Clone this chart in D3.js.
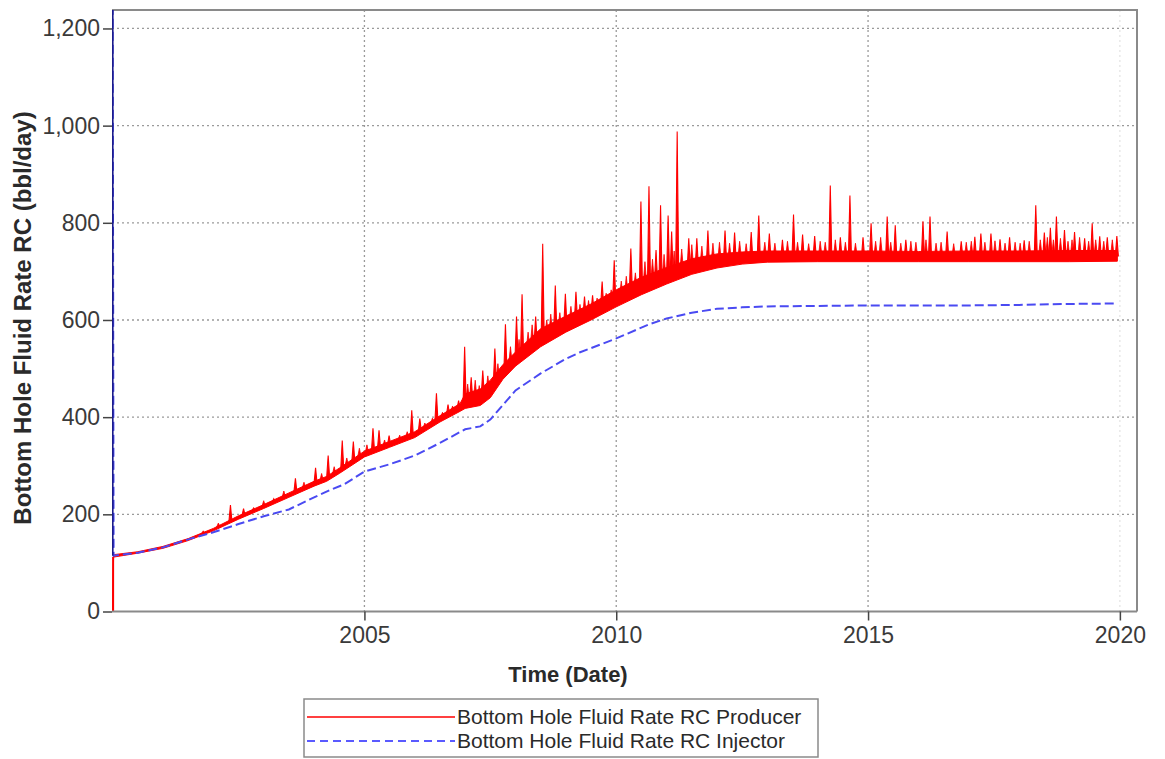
<!DOCTYPE html>
<html>
<head>
<meta charset="utf-8">
<script src="https://cdn.jsdelivr.net/npm/d3@7"></script>
<style>
  html, body { margin: 0; padding: 0; background: #fff; }
  svg { display: block; font-family: "Liberation Sans", Arial, sans-serif; }
</style>
</head>
<body>
<svg id="chart" width="1165" height="759"></svg>
<script>
// Producer rate envelope: [year, low, high] in bbl/day
const producerBand = [
  [2000.00, 0, 0], [2000.02, 112, 117], [2000.5, 120, 123], [2001.0, 130, 134],
  [2001.5, 146, 150], [2002.0, 166, 171], [2002.5, 190, 197], [2003.0, 212, 220],
  [2003.5, 235, 244], [2004.0, 258, 268], [2004.25, 268, 278], [2004.5, 284, 295],
  [2005.0, 318, 330], [2005.5, 338, 350], [2006.0, 358, 370], [2006.5, 390, 403],
  [2006.9, 412, 428], [2007.0, 418, 448], [2007.3, 424, 458], [2007.5, 440, 476],
  [2007.75, 478, 508], [2008.0, 505, 534], [2008.5, 545, 582], [2009.0, 575, 608],
  [2009.5, 600, 633], [2010.0, 627, 662], [2010.5, 652, 688], [2011.0, 674, 708],
  [2011.5, 694, 726], [2012.0, 707, 736], [2012.5, 715, 740], [2013.0, 719, 742],
  [2014.0, 720, 742], [2015.0, 720, 742], [2016.0, 720, 741], [2017.0, 720, 742],
  [2018.0, 720, 742], [2019.0, 720, 743], [2019.95, 721, 743]
];

// Producer rate spikes: [year, peak] in bbl/day
const producerSpikes = [
  [2002.34, 219], [2002.6, 212], [2003.2, 232], [2003.63, 274], [2004.03, 296],
  [2004.28, 321], [2004.56, 352], [2004.78, 350], [2005.17, 377], [2005.29, 373],
  [2005.49, 362], [2005.94, 414], [2006.10, 397], [2006.43, 449], [2006.66, 426],
  [2006.87, 434], [2006.99, 545], [2007.12, 482], [2007.35, 496], [2007.59, 541],
  [2007.80, 591], [2008.02, 607], [2008.13, 653], [2008.40, 607], [2008.54, 757],
  [2008.79, 671], [2008.99, 654], [2009.20, 658], [2009.37, 648], [2009.53, 651],
  [2009.72, 679], [2009.96, 723], [2010.29, 747], [2010.49, 844], [2010.65, 875],
  [2010.79, 744], [2010.88, 836], [2011.03, 815], [2011.10, 782], [2011.21, 988],
  [2011.44, 768], [2011.60, 768], [2011.82, 784], [2012.16, 784], [2012.35, 780],
  [2012.68, 781], [2012.83, 815], [2013.04, 778], [2013.30, 765], [2013.52, 817],
  [2013.70, 776], [2013.94, 773], [2014.25, 877], [2014.45, 770], [2014.64, 856],
  [2014.90, 770], [2015.06, 799], [2015.38, 813], [2015.54, 795], [2015.75, 765],
  [2016.09, 803], [2016.23, 813], [2016.57, 782], [2016.85, 762], [2017.12, 771],
  [2017.24, 778], [2017.44, 778], [2017.62, 766], [2017.81, 770], [2018.10, 764],
  [2018.33, 836], [2018.50, 780], [2018.62, 790], [2018.74, 813], [2018.90, 785],
  [2019.10, 781], [2019.30, 768], [2019.45, 799], [2019.60, 772], [2019.75, 770],
  [2019.94, 773]
];

// Smaller day-to-day fluctuations above the producer band: [year, peak]
const producerNoise = [
  [2001.8, 166], [2002.1, 182], [2002.8, 214], [2003.0, 228], [2003.4, 248],
  [2003.8, 266], [2004.15, 284], [2004.4, 298], [2004.65, 316], [2004.9, 336],
  [2005.05, 343], [2005.4, 353], [2005.7, 363], [2005.85, 370], [2006.2, 388],
  [2006.35, 398], [2006.55, 410], [2006.75, 423], [2007.05, 468], [2007.2, 476],
  [2007.28, 465], [2007.45, 485], [2007.65, 510], [2007.9, 545], [2008.07, 560],
  [2008.25, 575], [2008.33, 590], [2008.62, 600], [2008.7, 612], [2008.88, 615],
  [2009.1, 628], [2009.28, 632], [2009.45, 640], [2009.62, 645], [2009.8, 655],
  [2009.9, 662], [2010.1, 680], [2010.2, 690], [2010.38, 697], [2010.57, 720],
  [2010.72, 725], [2010.95, 735], [2011.15, 742], [2011.3, 746], [2011.5, 755],
  [2011.7, 752], [2011.92, 758], [2012.05, 760], [2012.25, 758], [2012.45, 762],
  [2012.58, 757], [2012.95, 760], [2013.15, 758], [2013.4, 762], [2013.6, 760],
  [2013.82, 757], [2014.05, 762], [2014.15, 760], [2014.35, 765], [2014.55, 760],
  [2014.75, 758], [2015.15, 762], [2015.25, 770], [2015.45, 760], [2015.65, 758],
  [2015.85, 762], [2015.95, 760], [2016.15, 765], [2016.35, 758], [2016.45, 760],
  [2016.7, 757], [2016.95, 760], [2017.05, 762], [2017.32, 760], [2017.52, 763],
  [2017.72, 758], [2017.92, 760], [2018.02, 758], [2018.2, 762], [2018.42, 765],
  [2018.56, 770], [2018.68, 765], [2018.82, 768], [2018.97, 762], [2019.05, 765],
  [2019.2, 770], [2019.38, 762], [2019.52, 765], [2019.68, 762], [2019.85, 765]
];

// Injector rate: [year, value] in bbl/day
const injectorSeries = [
  [2000.00, 1300], [2000.02, 115], [2000.5, 121], [2001.0, 132], [2001.55, 150],
  [2002.0, 163], [2002.5, 180], [2003.0, 196], [2003.5, 210], [2004.0, 235],
  [2004.32, 250], [2004.6, 262], [2005.0, 288], [2005.5, 303], [2006.0, 321],
  [2006.5, 347], [2007.0, 375], [2007.3, 381], [2007.5, 395], [2007.75, 425],
  [2008.0, 455], [2008.5, 490], [2009.0, 520], [2009.27, 533], [2010.0, 562],
  [2010.65, 591], [2011.0, 603], [2011.5, 615], [2012.0, 623], [2012.5, 626],
  [2013.0, 628], [2014.0, 629], [2015.0, 630], [2016.0, 630], [2017.0, 630],
  [2018.0, 631], [2019.0, 633], [2019.95, 634]
];

const xTicks = [2005, 2010, 2015, 2020];
const yTicks = [0, 200, 400, 600, 800, 1000, 1200];
const seriesNames = ["Bottom Hole Fluid Rate RC Producer", "Bottom Hole Fluid Rate RC Injector"];
const xTitle = "Time (Date)";
const yTitle = "Bottom Hole Fluid Rate RC (bbl/day)";

const svg = d3.select("#chart");
const plot = { left: 112, right: 1137, top: 10, bottom: 611.5 };

const x = d3.scaleLinear().domain([2000, 2020.34]).range([plot.left + 0.6, plot.right]);
const y = d3.scaleLinear().domain([0, 1238]).range([plot.bottom, plot.top]);

const red = "#ff0000";
const blue = "#4a4af2";
const gridColor = "#9a9a9a";
const font = "'Liberation Sans', Arial, sans-serif";

svg.append("defs").append("clipPath").attr("id", "plotClip")
  .append("rect")
  .attr("x", plot.left).attr("y", plot.top)
  .attr("width", plot.right - plot.left).attr("height", plot.bottom - plot.top);

// gridlines
const grid = svg.append("g");
grid.selectAll("line.h").data(yTicks.filter(d => d > 0)).join("line")
  .attr("x1", plot.left).attr("x2", plot.right)
  .attr("y1", d => y(d)).attr("y2", d => y(d))
  .attr("stroke", gridColor).attr("stroke-width", 1.3)
  .attr("stroke-dasharray", "2,3");
grid.selectAll("line.v").data(xTicks).join("line")
  .attr("x1", d => x(d)).attr("x2", d => x(d))
  .attr("y1", plot.top).attr("y2", plot.bottom)
  .attr("stroke", gridColor).attr("stroke-width", 1.3)
  .attr("stroke-dasharray", "2,3")
  .attr("opacity", d => d === 2020 ? 0.25 : 1);

// frame: top and right edges
svg.append("path")
  .attr("d", `M${plot.left},${plot.top}H${plot.right}V${plot.bottom}`)
  .attr("fill", "none").attr("stroke", "#8a8a8a").attr("stroke-width", 2);

const series = svg.append("g").attr("clip-path", "url(#plotClip)");

// producer band
series.append("path")
  .datum(producerBand)
  .attr("d", d3.area().x(d => x(d[0])).y0(d => y(d[1])).y1(d => y(d[2])))
  .attr("fill", red).attr("stroke", red).attr("stroke-width", 1);

// spikes rise from the middle of the band at their own time
const bandMid = d3.scaleLinear()
  .domain(producerBand.map(d => d[0]))
  .range(producerBand.map(d => (d[1] + d[2]) / 2));
const spikePath = half => d => {
  const base = y(bandMid(d[0]));
  return `M${x(d[0] - half)},${base}L${x(d[0])},${y(d[1])}L${x(d[0] + half)},${base}Z`;
};
series.selectAll("path.noise").data(producerNoise).join("path")
  .attr("class", "noise")
  .attr("d", spikePath(0.035))
  .attr("fill", red).attr("stroke", red).attr("stroke-width", 0.8);
series.selectAll("path.spike").data(producerSpikes).join("path")
  .attr("class", "spike")
  .attr("d", spikePath(0.03))
  .attr("fill", red).attr("stroke", red).attr("stroke-width", 1.1);

// injector
series.append("path")
  .datum(injectorSeries)
  .attr("d", d3.line().x(d => x(d[0])).y(d => y(d[1])))
  .attr("fill", "none").attr("stroke", blue).attr("stroke-width", 2)
  .attr("stroke-dasharray", "9,4");

// vertical starts of both series at the left edge
series.append("line")
  .attr("x1", x(2000)).attr("x2", x(2000))
  .attr("y1", y(injectorSeries[0][1])).attr("y2", y(injectorSeries[1][1]))
  .attr("stroke", "#1c1c8a").attr("stroke-width", 2);
series.append("line")
  .attr("x1", x(2000) + 0.5).attr("x2", x(2000) + 0.5)
  .attr("y1", y(0)).attr("y2", y(producerBand[1][1]))
  .attr("stroke", red).attr("stroke-width", 2);

// axes
const xAxis = d3.axisBottom(x).tickValues(xTicks).tickFormat(d3.format("d"))
  .tickSize(9).tickPadding(4);
const gx = svg.append("g").attr("transform", `translate(0,${plot.bottom})`).call(xAxis);
gx.select(".domain").attr("d", `M${plot.left},0H${plot.right}`)
  .attr("stroke", "#8a8a8a").attr("stroke-width", 2.2);
gx.selectAll(".tick line").attr("stroke", "#444").attr("stroke-width", 1.5);
gx.selectAll(".tick text").attr("font-size", 23).attr("fill", "#3a3a3a")
  .attr("font-family", font).attr("dy", "0.82em");

const yAxis = d3.axisLeft(y).tickValues(yTicks).tickFormat(d3.format(","))
  .tickSize(9).tickPadding(3);
const gy = svg.append("g").attr("transform", `translate(${plot.left},0)`).call(yAxis);
gy.select(".domain").remove();
gy.selectAll(".tick line").attr("stroke", "#444").attr("stroke-width", 1.5);
gy.selectAll(".tick text").attr("font-size", 23).attr("fill", "#3a3a3a")
  .attr("font-family", font);

// axis titles
svg.append("text")
  .attr("x", 568).attr("y", 682)
  .attr("text-anchor", "middle")
  .attr("font-size", 22).attr("font-weight", "bold").attr("fill", "#2a2a2a")
  .text(xTitle);
svg.append("text")
  .attr("transform", `translate(31,318) rotate(-90)`)
  .attr("text-anchor", "middle")
  .attr("font-size", 24).attr("font-weight", "bold").attr("fill", "#2a2a2a")
  .text(yTitle);

// legend
const legend = svg.append("g");
legend.append("rect")
  .attr("x", 304).attr("y", 699).attr("width", 514).attr("height", 58)
  .attr("fill", "#fff").attr("stroke", "#8a8a8a").attr("stroke-width", 1.5);
const legendRows = [
  { name: seriesNames[0], color: "#ff4040", dash: null, yy: 717 },
  { name: seriesNames[1], color: "#5a5aff", dash: "8,5", yy: 741 }
];
legendRows.forEach(r => {
  legend.append("line")
    .attr("x1", 307).attr("x2", 455).attr("y1", r.yy).attr("y2", r.yy)
    .attr("stroke", r.color).attr("stroke-width", 2)
    .attr("stroke-dasharray", r.dash);
  legend.append("text")
    .attr("x", 457).attr("y", r.yy + 7)
    .attr("font-size", 21).attr("fill", "#2a2a2a")
    .text(r.name);
});
</script>
</body>
</html>
